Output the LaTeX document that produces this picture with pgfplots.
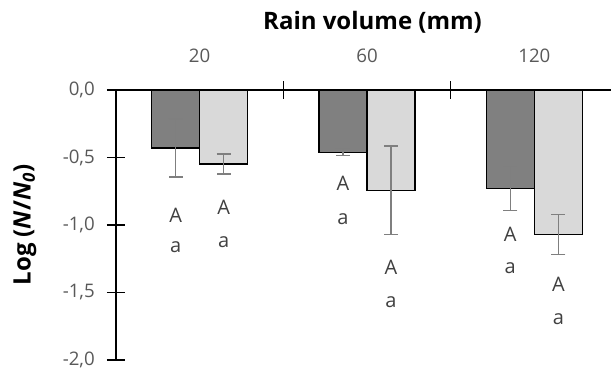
\documentclass[border=0pt]{standalone}
\usepackage{pgfplots}
\pgfplotsset{compat=1.18}
\usepackage{fontspec}
\setmainfont{Open Sans}
\definecolor{darkbar}{HTML}{808080}
\definecolor{lightbar}{HTML}{D9D9D9}
\definecolor{errc}{HTML}{7F7F7F}
\definecolor{txt}{HTML}{595959}
\definecolor{ltr}{HTML}{404040}
\begin{document}
\begin{tikzpicture}
\begin{axis}[
  name=ax,
  scale only axis,
  width=376.5pt, height=202.5pt,
  xmin=-0.5, xmax=2.5, ymin=-2, ymax=0,
  axis x line=top, axis y line=left,
  axis line style={-, line width=1.1pt, black},
  tick align=center,
  major tick length=13.5pt,
  tick style={line width=1.1pt, black},
  xtick={0.5,1.5}, xticklabels={},
  extra x ticks={0,1,2}, extra x tick labels={20,60,120},
  extra x tick style={major tick length=0pt},
  ytick={0,-0.5,-1,-1.5,-2},
  /pgf/number format/use comma,
  /pgf/number format/fixed,
  /pgf/number format/fixed zerofill,
  /pgf/number format/precision=1,
  /pgf/number format/assume math mode=true,
  ticklabel style={font=\fontsize{14}{16}\selectfont, text=txt},
  yticklabel style={anchor=east, inner sep=0pt, xshift=-9pt},
  xticklabel style={anchor=base, inner sep=0pt, yshift=21pt},
  every axis x label/.style={at={(rel axis cs:0.511,1.2519)}, anchor=center, font=\fontsize{18}{20}\selectfont\bfseries},
  every axis y label/.style={at={(rel axis cs:-0.1813,0.5)}, rotate=90, anchor=center, font=\fontsize{18}{20}\selectfont\bfseries},
  xlabel={Rain volume (mm)},
  ylabel={Log (\textit{N}/\textit{N}\textsubscript{\textit{0}})},
  clip=false,
]
\addplot[ybar, bar width=36pt, bar shift=0pt, fill=darkbar, draw=black, line width=1.1pt,
  error bars/.cd, y dir=both, y explicit,
  error bar style={errc, line width=1.1pt},
  error mark options={rotate=90, mark size=5.25pt, errc, line width=1.1pt}]
  coordinates {(-0.1437,-0.430) +- (0,0.215) (0.8563,-0.461) +- (0,0.026) (1.8563,-0.728) +- (0,0.163)};
\addplot[ybar, bar width=36pt, bar shift=0pt, fill=lightbar, draw=black, line width=1.1pt,
  error bars/.cd, y dir=both, y explicit,
  error bar style={errc, line width=1.1pt},
  error mark options={rotate=90, mark size=5.25pt, errc, line width=1.1pt}]
  coordinates {(0.1437,-0.548) +- (0,0.074) (1.1437,-0.743) +- (0,0.327) (2.1437,-1.069) +- (0,0.148)};
\addplot[draw=none, mark=none,
  nodes near coords, point meta=explicit symbolic, nodes near coords align=center,
  every node near coord/.append style={anchor=center, font=\fontsize{15}{17}\selectfont, text=ltr}]
  coordinates {
  (-0.1437,-0.926) [A] (-0.1437,-1.163) [a]
  (0.1437,-0.867) [A] (0.1437,-1.126) [a]
  (0.8563,-0.689) [A] (0.8563,-0.956) [a]
  (1.1437,-1.311) [A] (1.1437,-1.570) [a]
  (1.8563,-1.067) [A] (1.8563,-1.319) [a]
  (2.1437,-1.437) [A] (2.1437,-1.696) [a]
  };
\end{axis}
\pgfresetboundingbox
\path ([xshift=-87pt,yshift=-12pt]ax.south west) rectangle ([xshift=-5.25pt,yshift=67.5pt]ax.north east);
\end{tikzpicture}
\end{document}
